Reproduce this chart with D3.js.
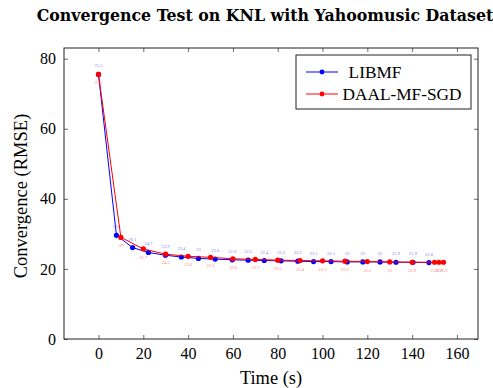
<!DOCTYPE html>
<html><head><meta charset="utf-8">
<script src="https://cdn.jsdelivr.net/npm/d3@7"></script>
<style>body{margin:0;background:#fff}svg{display:block}</style>
</head><body>
<svg id="c" width="493" height="388"></svg>
<script>
const titleText = "Convergence Test on KNL with Yahoomusic Dataset";
const xLabel = "Time (s)";
const yLabel = "Convergence (RMSE)";
const seriesNames = ["LIBMF", "DAAL-MF-SGD"];
const libmfTime = [0, 8, 15.2, 22.3, 29.9, 37, 44.6, 52.1, 59.7, 66.8, 74, 81.5, 89, 96, 103.8, 111, 118, 125.7, 132.8, 140.4, 147.5];
const libmfRmse = [75.5, 29.6, 26.1, 24.7, 23.9, 23.4, 23, 22.8, 22.6, 22.5, 22.4, 22.3, 22.2, 22.1, 22.1, 22, 22, 22, 21.9, 21.9, 21.8];
const daalTime = [0, 10, 20, 30, 40, 50, 60, 70, 80, 90, 100, 110, 120, 130, 140, 150, 152, 154];
const daalRmse = [75.5, 29, 25.7, 24.2, 23.6, 23.3, 22.9, 22.7, 22.5, 22.4, 22.3, 22.2, 22.1, 22, 21.9, 21.9, 21.9, 21.9];
const xTicks = [0, 20, 40, 60, 80, 100, 120, 140, 160];
const yTicks = [0, 20, 40, 60, 80];

const font = "'Liberation Serif', 'DejaVu Serif', serif";
const svg = d3.select("#c");
const L = 64, R = 478, T = 48, B = 339;
const x = d3.scaleLinear().domain([-15.4, 169.4]).range([L, R]);
const y = d3.scaleLinear().domain([0, 83.05]).range([B, T]);

svg.append("text").attr("x", 265).attr("y", 21).attr("text-anchor", "middle")
  .attr("font-family", "'DejaVu Serif', serif").attr("font-weight", "bold").attr("font-size", 15.8)
  .text(titleText);

const gx = svg.append("g").attr("transform", `translate(0,${B})`)
  .call(d3.axisBottom(x).tickValues(xTicks).tickSize(-4).tickPadding(9).tickFormat(d3.format("d")));
const gxt = svg.append("g").attr("transform", `translate(0,${T})`)
  .call(d3.axisTop(x).tickValues(xTicks).tickSize(-4).tickFormat(""));
const gy = svg.append("g").attr("transform", `translate(${L},0)`)
  .call(d3.axisLeft(y).tickValues(yTicks).tickSize(-4).tickPadding(8).tickFormat(d3.format("d")));
const gyr = svg.append("g").attr("transform", `translate(${R},0)`)
  .call(d3.axisRight(y).tickValues(yTicks).tickSize(-4).tickFormat(""));
[gx, gxt, gy, gyr].forEach(g => {
  g.select(".domain").remove();
  g.selectAll(".tick line").attr("stroke", "#444").attr("stroke-width", 0.8);
  g.selectAll("text").attr("font-family", font).attr("font-size", 16).attr("fill", "#000");
});
svg.append("rect").attr("x", L).attr("y", T).attr("width", R - L).attr("height", B - T)
  .attr("fill", "none").attr("stroke", "#222").attr("stroke-width", 1);

svg.append("text").attr("x", 271).attr("y", 384).attr("text-anchor", "middle")
  .attr("font-family", font).attr("font-size", 18.4).text(xLabel);
svg.append("text").attr("transform", "translate(27,196) rotate(-90)").attr("text-anchor", "middle")
  .attr("font-family", font).attr("font-size", 18.5).text(yLabel);

const line = d3.line().x(d => x(d[0])).y(d => y(d[1]));
const series = [
  {t: libmfTime, v: libmfRmse, color: "#0000ff", lab: "#7b7bff", dy: -7},
  {t: daalTime, v: daalRmse, color: "#ff0000", lab: "#ff7b7b", dy: 10}
];
series.forEach(s => {
  const pts = s.t.map((t, i) => [t, s.v[i]]);
  const g = svg.append("g");
  g.append("path").datum(pts).attr("d", line).attr("fill", "none").attr("stroke", s.color).attr("stroke-width", 1);
  g.selectAll("circle").data(pts).enter().append("circle")
    .attr("cx", d => x(d[0])).attr("cy", d => y(d[1])).attr("r", 2.6).attr("fill", s.color);
  g.selectAll("text").data(pts).enter().append("text")
    .attr("x", d => x(d[0])).attr("y", d => y(d[1]) + s.dy).attr("text-anchor", "middle")
    .attr("font-family", font).attr("font-size", 4.5).attr("fill", s.lab).text(d => d[1]);
});

const lg = svg.append("g");
lg.append("rect").attr("x", 296).attr("y", 55).attr("width", 175).attr("height", 54)
  .attr("fill", "#fff").attr("stroke", "#222").attr("stroke-width", 1);
series.forEach((s, i) => {
  const yy = 72 + i * 22;
  lg.append("line").attr("x1", 306).attr("x2", 338).attr("y1", yy).attr("y2", yy).attr("stroke", s.color).attr("stroke-width", 1);
  lg.append("circle").attr("cx", 322).attr("cy", yy).attr("r", 2.4).attr("fill", s.color);
  lg.append("text").attr("x", i === 0 ? 375 : 402).attr("y", yy + 6).attr("text-anchor", "middle")
    .attr("font-family", font).attr("font-size", 17.3).text(seriesNames[i]);
});
</script>
</body></html>
